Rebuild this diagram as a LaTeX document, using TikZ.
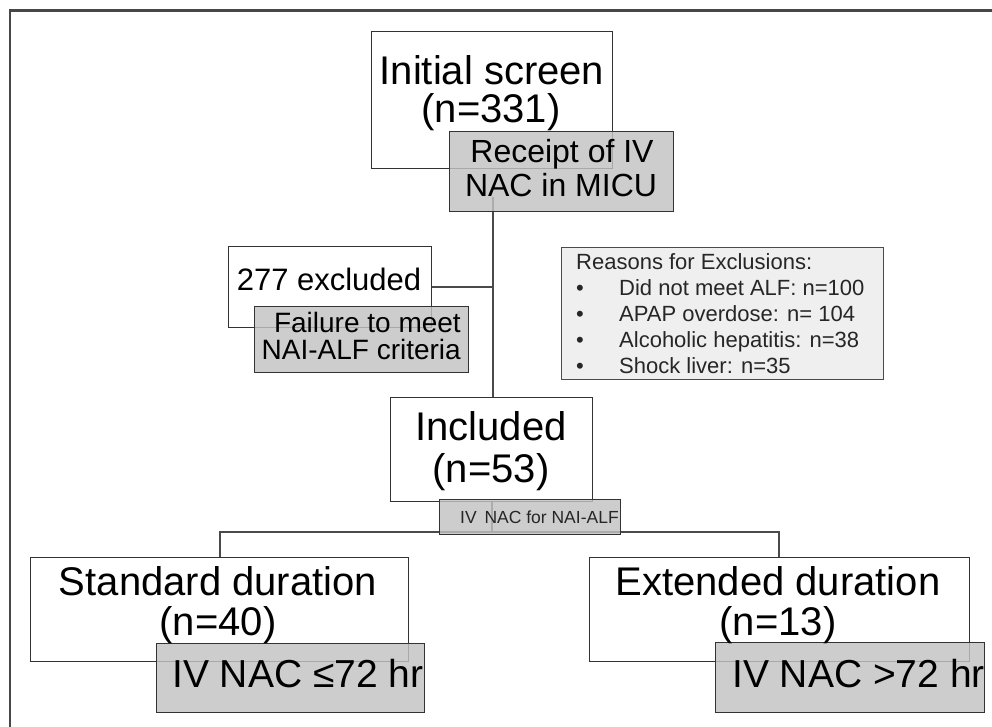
\documentclass[tikz,border=0pt]{standalone}
\usepackage{fontspec}
\setmainfont{Liberation Sans}
\definecolor{edge}{HTML}{333333}
\definecolor{wire}{HTML}{4A4A4A}
\definecolor{shade}{HTML}{C2C2C2}
\definecolor{note}{HTML}{EFEFEF}
\tikzset{
  wbox/.style={draw=edge, line width=1.3pt, fill=white, inner sep=0pt, anchor=north west},
  gbox/.style={draw=edge, line width=1.3pt, fill=shade, fill opacity=0.82, inner sep=0pt, anchor=north west},
  nbox/.style={draw=wire, line width=1.2pt, fill=note, inner sep=0pt, anchor=north west},
  conn/.style={draw=wire, line width=1.5pt},
  frame/.style={draw=edge!90, line width=2.2pt},
  big/.style={font=\fontsize{40}{40}\selectfont, inner sep=0pt, anchor=base, text=black},
  mid/.style={font=\fontsize{32}{32}\selectfont, inner sep=0pt, anchor=base, text=black},
  small/.style={font=\fontsize{28}{28}\selectfont, inner sep=0pt, anchor=base, text=black},
  list/.style={font=\fontsize{22}{22}\selectfont, inner sep=0pt, anchor=base west, text=black!85},
  tiny/.style={font=\fontsize{17.5}{17.5}\selectfont, inner sep=0pt, anchor=base west, text=black!85},
}
\begin{document}
\begin{tikzpicture}[x=1pt, y=-1pt]
\useasboundingbox (0,0) rectangle (992,727);

% outer frame (top and left edges)
\draw[frame] (10,727) -- (10,10.5) -- (992,10.5);

% connector anchor points
\coordinate (trunk) at (493,197);
\coordinate (split) at (492,532);
\coordinate (sl) at (220,532);
\coordinate (sr) at (779,532);

% main boxes
\node[wbox, minimum width=241pt, minimum height=137pt] (init) at (371,31) {};
\node[wbox, minimum width=203pt, minimum height=81pt] (excl) at (228,246) {};
\node[wbox, minimum width=202pt, minimum height=104pt] (incl) at (390,397) {};
\node[wbox, minimum width=378pt, minimum height=104pt] (std) at (30,557) {};
\node[wbox, minimum width=380pt, minimum height=104pt] (ext) at (589,557) {};
\node[nbox, minimum width=322pt, minimum height=132pt] (reasons) at (561,247) {};

% connectors
\draw[conn] (trunk) -- (trunk |- incl.north);
\draw[conn] (excl.east) -- (excl.east -| trunk);
\draw[conn] (incl.south -| split) -- (split);
\draw[conn] (sl |- std.north) -- (sl) -- (sr) -- (sr |- ext.north);

% shaded sub-boxes
\node[gbox, minimum width=224pt, minimum height=80pt] (receipt) at (449,131) {};
\node[gbox, minimum width=214pt, minimum height=66pt] (fail) at (254,306) {};
\node[gbox, minimum width=181pt, minimum height=35pt] (ivnac) at (439,499) {};
\node[gbox, minimum width=268pt, minimum height=69pt] (le72) at (156,643) {};
\node[gbox, minimum width=269pt, minimum height=70pt] (gt72) at (715,642) {};

% texts
\node[big] (init1) at (492,85) {Initial screen};
\node[big] (init2) at (491,123) {(n=331)};
\node[mid] (rec1) at (562,163) {Receipt of IV};
\node[mid] (rec2) at (561,197) {NAC in MICU};
\node[font=\fontsize{31}{31}\selectfont, inner sep=0pt, anchor=base] (excl1) at (329,290) {277 excluded};
\node[small, anchor=base east] (fail1) at (461,332) {Failure to meet};
\node[small, anchor=base east] (fail2) at (461,359) {NAI-ALF criteria};

\node[list] (rs0) at (576,269) {Reasons for Exclusions:};
\foreach \y/\t [count=\i] in {295/{Did not meet ALF: n=100}, 321/{APAP overdose: n= 104}, 347/{Alcoholic hepatitis: n=38}, 373/{Shock liver: n=35}} {
  \node[list, anchor=base] (b\i) at (580,\y) {•};
  \node[list] (rs\i) at (619,\y) {\t};
}

\node[big] (inc1) at (491,440) {Included};
\node[big] (inc2) at (491,482) {(n=53)};
\node[tiny] (iv1) at (460,523) {IV\, NAC for NAI-ALF};

\node[big] (std1) at (218,595) {Standard duration};
\node[big] (std2) at (218,635) {(n=40)};
\node[big, anchor=base west, font=\fontsize{39}{39}\selectfont] (le1) at (172,687) {IV NAC ≤72 hr};

\node[big] (ext1) at (778,595) {Extended duration};
\node[big] (ext2) at (778,635) {(n=13)};
\node[big, anchor=base west, font=\fontsize{39}{39}\selectfont] (gt1) at (732,687) {IV NAC >72 hr};
\end{tikzpicture}
\end{document}
